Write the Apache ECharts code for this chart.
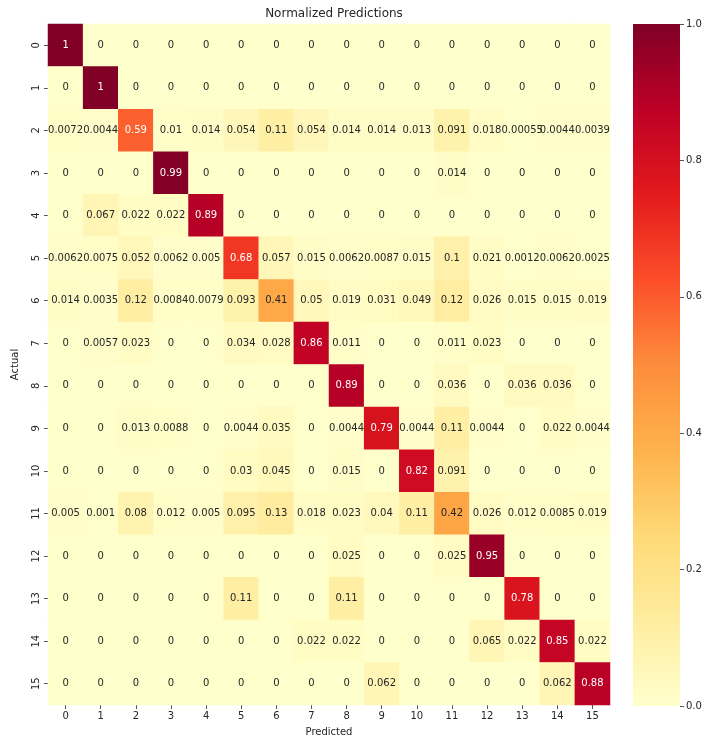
<!DOCTYPE html>
<html>
<head>
<meta charset="utf-8">
<script src="https://cdn.jsdelivr.net/npm/echarts@6/dist/echarts.min.js"></script>
<style>
  html, body { margin: 0; padding: 0; background: #fff; }
  #chart { width: 720px; height: 742px; }
</style>
</head>
<body>
<div id="chart"></div>
<script>
/* class labels, same for both axes */
const classes = ['0','1','2','3','4','5','6','7','8','9','10','11','12','13','14','15'];
/* normalized confusion matrix, one row per actual class */
const row0  = [1,0,0,0,0,0,0,0,0,0,0,0,0,0,0,0];
const row1  = [0,1,0,0,0,0,0,0,0,0,0,0,0,0,0,0];
const row2  = [0.0072,0.0044,0.59,0.01,0.014,0.054,0.11,0.054,0.014,0.014,0.013,0.091,0.018,0.00055,0.0044,0.0039];
const row3  = [0,0,0,0.99,0,0,0,0,0,0,0,0.014,0,0,0,0];
const row4  = [0,0.067,0.022,0.022,0.89,0,0,0,0,0,0,0,0,0,0,0];
const row5  = [0.0062,0.0075,0.052,0.0062,0.005,0.68,0.057,0.015,0.0062,0.0087,0.015,0.1,0.021,0.0012,0.0062,0.0025];
const row6  = [0.014,0.0035,0.12,0.0084,0.0079,0.093,0.41,0.05,0.019,0.031,0.049,0.12,0.026,0.015,0.015,0.019];
const row7  = [0,0.0057,0.023,0,0,0.034,0.028,0.86,0.011,0,0,0.011,0.023,0,0,0];
const row8  = [0,0,0,0,0,0,0,0,0.89,0,0,0.036,0,0.036,0.036,0];
const row9  = [0,0,0.013,0.0088,0,0.0044,0.035,0,0.0044,0.79,0.0044,0.11,0.0044,0,0.022,0.0044];
const row10 = [0,0,0,0,0,0.03,0.045,0,0.015,0,0.82,0.091,0,0,0,0];
const row11 = [0.005,0.001,0.08,0.012,0.005,0.095,0.13,0.018,0.023,0.04,0.11,0.42,0.026,0.012,0.0085,0.019];
const row12 = [0,0,0,0,0,0,0,0,0.025,0,0,0.025,0.95,0,0,0];
const row13 = [0,0,0,0,0,0.11,0,0,0.11,0,0,0,0,0.78,0,0];
const row14 = [0,0,0,0,0,0,0,0.022,0.022,0,0,0,0.065,0.022,0.85,0.022];
const row15 = [0,0,0,0,0,0,0,0,0,0.062,0,0,0,0,0.062,0.88];
const matrix = [row0,row1,row2,row3,row4,row5,row6,row7,row8,row9,row10,row11,row12,row13,row14,row15];
const colorbarTicks = [0, 0.2, 0.4, 0.6, 0.8, 1.0];

/* YlOrRd */
const palette = ['#ffffcc','#ffeda0','#fed976','#feb24c','#fd8d3c','#fc4e2a','#e31a1c','#bd0026','#800026'];
const font = 'DejaVu Sans';
const textColor = '#262626';

const cells = [];
matrix.forEach((row, r) => {
    row.forEach((v, c) => {
        cells.push([c, r, v]);
    });
});

/* like python's ".2g" */
function fmt(v) {
    return String(parseFloat(Number(v).toPrecision(2)));
}

const option = {
    backgroundColor: '#fff',
    animation: false,
    textStyle: { fontFamily: font },
    title: {
        text: 'Normalized Predictions',
        left: 329,
        top: 3,
        textAlign: 'center',
        textStyle: { fontFamily: font, fontSize: 12, fontWeight: 'normal', color: textColor }
    },
    grid: [
        { left: 48, top: 24, width: 562, height: 682 },
        { left: 633, top: 24, width: 47, height: 682 }
    ],
    xAxis: [{
        type: 'category',
        gridIndex: 0,
        data: classes,
        position: 'bottom',
        name: 'Predicted',
        nameLocation: 'middle',
        nameGap: 22,
        nameTextStyle: { fontFamily: font, fontSize: 10, color: textColor },
        axisLine: { show: false },
        axisTick: { show: true, length: 4, alignWithLabel: true, lineStyle: { color: '#555' } },
        axisLabel: { fontFamily: font, fontSize: 10, color: textColor, margin: 6 },
        splitLine: { show: false }
    }, {
        type: 'category',
        gridIndex: 1,
        data: ['bar'],
        show: false
    }],
    yAxis: [{
        type: 'category',
        gridIndex: 0,
        data: classes,
        inverse: true,
        name: 'Actual',
        nameLocation: 'middle',
        nameRotate: 90,
        nameGap: 28,
        nameTextStyle: { fontFamily: font, fontSize: 10, color: textColor },
        axisLine: { show: false },
        axisTick: { show: true, length: 4, alignWithLabel: true, lineStyle: { color: '#555' } },
        axisLabel: { fontFamily: font, fontSize: 10, color: textColor, rotate: 90, margin: 7 },
        splitLine: { show: false }
    }, {
        type: 'value',
        gridIndex: 1,
        position: 'right',
        min: colorbarTicks[0],
        max: colorbarTicks[colorbarTicks.length - 1],
        interval: 0.2,
        axisLine: { show: false },
        axisTick: { show: true, length: 4, lineStyle: { color: '#555' } },
        axisLabel: {
            fontFamily: font, fontSize: 10, color: textColor, margin: 6,
            formatter: v => v.toFixed(1)
        },
        splitLine: { show: false }
    }],
    visualMap: {
        show: false,
        seriesIndex: 0,
        min: 0,
        max: 1,
        dimension: 2,
        inRange: { color: palette }
    },
    series: [{
        type: 'heatmap',
        xAxisIndex: 0,
        yAxisIndex: 0,
        data: cells,
        label: {
            show: true,
            fontFamily: font,
            fontSize: 10,
            formatter: p => fmt(p.value[2]),
            color: textColor
        },
        labelLayout: { hideOverlap: false },
        emphasis: { disabled: true }
    }, {
        /* colorbar */
        type: 'bar',
        xAxisIndex: 1,
        yAxisIndex: 1,
        data: [colorbarTicks[colorbarTicks.length - 1]],
        barWidth: '100%',
        silent: true,
        itemStyle: {
            color: new echarts.graphic.LinearGradient(0, 1, 0, 0,
                palette.map((c, i) => ({ offset: i / (palette.length - 1), color: c })))
        }
    }]
};

/* white labels on dark cells */
option.series[0].data = cells.map(d => ({
    value: d,
    label: { color: d[2] > 0.5 ? '#ffffff' : textColor }
}));

const chart = echarts.init(document.getElementById('chart'));
chart.setOption(option);
</script>
</body>
</html>
